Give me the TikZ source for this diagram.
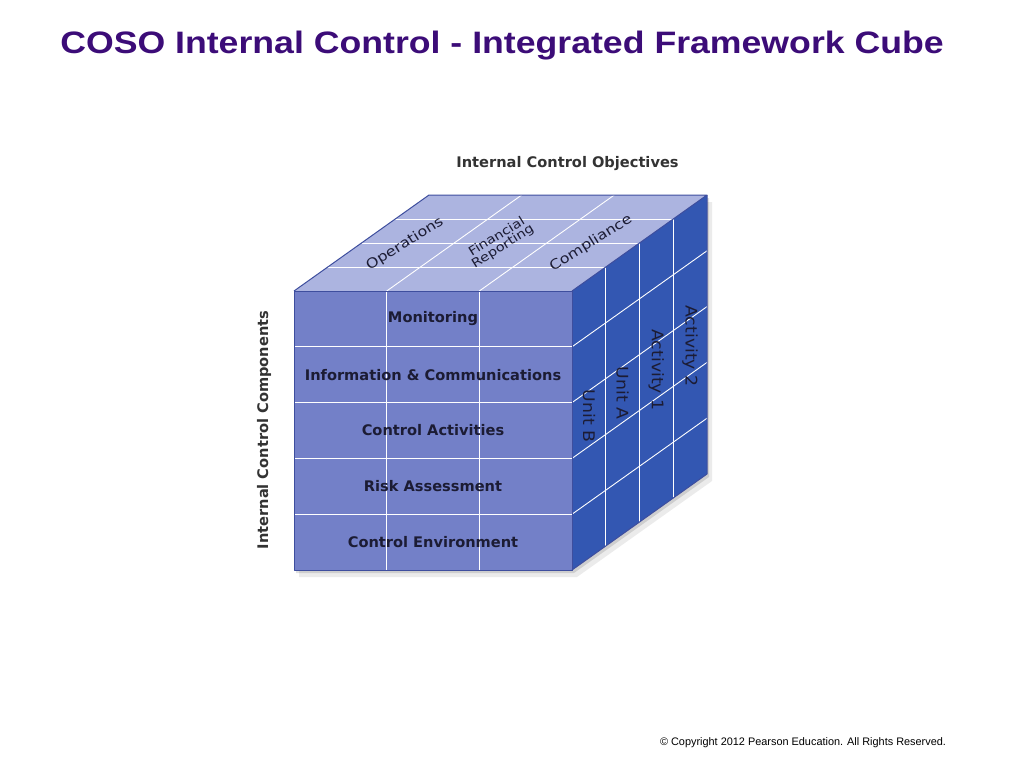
\documentclass[tikz,border=0pt]{standalone}
\usepackage{fontspec}
\setmainfont{Liberation Sans}
\newfontfamily\cubefont{DejaVu Sans}
\usepackage{xcolor}
\usepackage{tikz}

\definecolor{titlepurple}{RGB}{60,12,120}
\definecolor{frontblue}{RGB}{115,128,200}
\definecolor{topblue}{RGB}{172,180,224}
\definecolor{sideblue}{RGB}{51,87,178}
\definecolor{edgeblue}{RGB}{62,78,158}
\definecolor{labelnavy}{RGB}{28,28,52}

\tikzset{
	cubeedge/.style={draw=edgeblue,line width=1pt,line join=round},
	gridline/.style={draw=white,line width=0.9pt},
	rowlabel/.style={font=\cubefont\bfseries\fontsize{14.6}{17}\selectfont,text=labelnavy,inner sep=0pt},
	axislabel/.style={font=\cubefont\bfseries\fontsize{14.6}{17}\selectfont,text=black!80,inner sep=0pt},
	toplabel/.style={font=\cubefont\fontsize{16}{12}\selectfont,text=labelnavy,align=center,inner sep=0pt,
		rotate=32,yscale=0.85},
	sidelabel/.style={font=\cubefont\fontsize{16}{20}\selectfont,text=labelnavy,inner sep=0pt,
		rotate=-90,xscale=1.08},
}

\begin{document}
\begin{tikzpicture}[x=1pt,y=-1pt]
	\useasboundingbox (0,0) rectangle (1024,768);
	% corners
	\coordinate (FTL) at (294,291);
	\coordinate (FTR) at (572,291);
	\coordinate (FBL) at (294,570);
	\coordinate (FBR) at (572,570);
	\coordinate (BTL) at (429,195);
	\coordinate (BTR) at (707,195);
	\coordinate (BBR) at (707,474);
	%
	% shadow
	\fill[black,opacity=0.08] ([shift={(5,7)}]FTL) -- ([shift={(5,7)}]BTL) -- ([shift={(5,7)}]BTR)
		-- ([shift={(5,7)}]BBR) -- ([shift={(5,7)}]FBR) -- ([shift={(5,7)}]FBL) -- cycle;
	\fill[black,opacity=0.12] ([shift={(2,3)}]FTL) -- ([shift={(2,3)}]BTL) -- ([shift={(2,3)}]BTR)
		-- ([shift={(2,3)}]BBR) -- ([shift={(2,3)}]FBR) -- ([shift={(2,3)}]FBL) -- cycle;
	% faces
	\path[fill=frontblue] (FTL) rectangle (FBR);
	\path[fill=topblue] (FTL) -- (FTR) -- (BTR) -- (BTL) -- cycle;
	\path[fill=sideblue] (FTR) -- (BTR) -- (BBR) -- (FBR) -- cycle;
	% front grid
	\draw[gridline] (386.7,291) -- (386.7,570);
	\draw[gridline] (479.3,291) -- (479.3,570);
	\draw[gridline] (294,346.8) -- (572,346.8);
	\draw[gridline] (294,402.6) -- (572,402.6);
	\draw[gridline] (294,458.4) -- (572,458.4);
	\draw[gridline] (294,514.2) -- (572,514.2);
	% top grid
	\draw[gridline] (327.75,267) -- (605.75,267);
	\draw[gridline] (361.5,243) -- (639.5,243);
	\draw[gridline] (395.25,219) -- (673.25,219);
	\draw[gridline] (386.7,291) -- (521.7,195);
	\draw[gridline] (479.3,291) -- (614.3,195);
	% side grid
	\draw[gridline] (605.75,267) -- (605.75,546);
	\draw[gridline] (639.5,243) -- (639.5,522);
	\draw[gridline] (673.25,219) -- (673.25,498);
	\draw[gridline] (572,346.8) -- (707,250.8);
	\draw[gridline] (572,402.6) -- (707,306.6);
	\draw[gridline] (572,458.4) -- (707,362.4);
	\draw[gridline] (572,514.2) -- (707,418.2);
	% edges
	\draw[cubeedge] (FTL) rectangle (FBR);
	\draw[cubeedge] (FTL) -- (BTL) -- (BTR) -- (FTR);
	\draw[cubeedge] (BTR) -- (BBR) -- (FBR);
	%
	% nodes
	\node[font=\bfseries\fontsize{31}{36}\selectfont,text=titlepurple,anchor=base,xscale=1.15]
		(title) at (502,53) {COSO Internal Control - Integrated Framework Cube};
	\node[axislabel] (obj) at (567.5,164) {Internal Control Objectives};
	\node[axislabel,rotate=90] (comp) at (264,430) {Internal Control Components};
	%
	\node[rowlabel] (mon) at (433,319) {Monitoring};
	\node[rowlabel] (info) at (433,374.7) {Information \& Communications};
	\node[rowlabel] (act) at (433,430.5) {Control Activities};
	\node[rowlabel] (risk) at (433,486.3) {Risk Assessment};
	\node[rowlabel] (env) at (433,542.1) {Control Environment};
	%
	\node[toplabel] (ops) at (405,244) {Operations};
	\node[toplabel,font=\cubefont\fontsize{14.5}{13.5}\selectfont] (fin) at (500,242) {Financial\\Reporting};
	\node[toplabel] (compl) at (591,243) {Compliance};
	%
	\node[sidelabel] (ub) at (589,416) {Unit B};
	\node[sidelabel] (ua) at (622.6,393) {Unit A};
	\node[sidelabel] (a1) at (656.4,370) {Activity 1};
	\node[sidelabel] (a2) at (690,346) {Activity 2};
	%
	\node[font=\fontsize{10.9}{13}\selectfont] (copy) at (803,743)
		{\textcopyright{} Copyright 2012 Pearson Education. All Rights Reserved.};
\end{tikzpicture}
\end{document}
